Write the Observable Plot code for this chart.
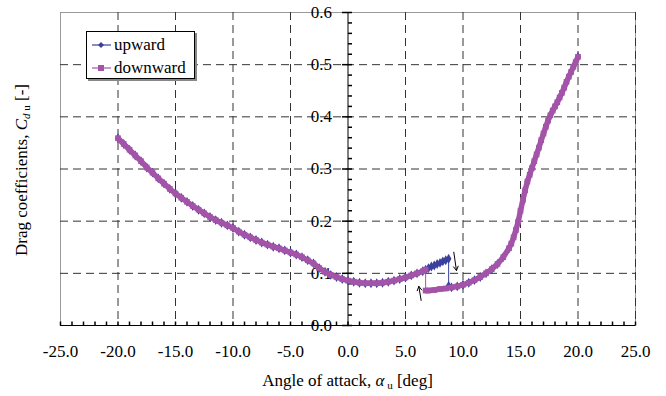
<!DOCTYPE html>
<html><head><meta charset="utf-8">
<script src="https://cdn.jsdelivr.net/npm/d3@7"></script>
<script src="https://cdn.jsdelivr.net/npm/@observablehq/plot@0.6"></script>
<style>
body{margin:0;background:#fff;}
#wrap{position:relative;width:666px;height:396px;font-family:"Liberation Serif",serif;}
#wrap svg, #wrap svg text{font-family:"Liberation Serif",serif !important;}
#legend{position:absolute;left:86px;top:31px;width:107px;height:46px;border:1px solid #000;background:#fff;box-shadow:2px 2px 0 #888;font-size:17px;line-height:1;}
#legend .row{position:absolute;left:5px;display:flex;align-items:center;}
#legend svg{margin-right:3px;}
</style></head><body><div id="wrap"></div>
<script>
// ---- data ----
const downAlpha = [-20,-19.5,-19,-18.5,-18,-17.5,-17,-16.5,-16,-15.5,-15,-14.5,-14,-13.5,-13,-12.5,-12,-11.5,-11,-10.5,-10,-9.5,-9,-8.5,-8,-7.5,-7,-6.5,-6,-5.5,-5,-4.5,-4,-3.5,-3,-2.5,-2,-1.5,-1,-0.5,0,0.5,1,1.5,2,2.5,3,3.5,4,4.5,5,5.5,6,6.5,6.75,6.75,7,7.5,8,8.5,9,9.5,10,10.5,11,11.5,12,12.5,13,13.5,14,14.2,14.4,14.6,14.8,15,15.2,15.4,15.6,15.8,16,16.2,16.4,16.6,16.8,17,17.2,17.4,17.6,17.8,18,18.2,18.4,18.6,18.8,19,19.2,19.4,19.6,19.8,20];
const downCd = [0.359,0.348,0.337,0.326,0.315,0.303,0.293,0.282,0.272,0.262,0.253,0.245,0.237,0.229,0.222,0.215,0.208,0.202,0.197,0.192,0.187,0.180,0.174,0.169,0.164,0.159,0.155,0.151,0.148,0.144,0.140,0.136,0.131,0.125,0.119,0.110,0.103,0.097,0.093,0.089,0.086,0.084,0.082,0.081,0.081,0.081,0.082,0.084,0.086,0.089,0.092,0.096,0.100,0.104,0.107,0.067,0.067,0.068,0.070,0.071,0.073,0.075,0.078,0.082,0.087,0.093,0.100,0.108,0.118,0.131,0.148,0.157,0.169,0.183,0.199,0.220,0.240,0.259,0.276,0.289,0.302,0.315,0.328,0.341,0.355,0.368,0.381,0.393,0.403,0.412,0.420,0.428,0.437,0.446,0.456,0.467,0.477,0.486,0.496,0.505,0.515];
const upAlpha = [-20,-19.5,-19,-18.5,-18,-17.5,-17,-16.5,-16,-15.5,-15,-14.5,-14,-13.5,-13,-12.5,-12,-11.5,-11,-10.5,-10,-9.5,-9,-8.5,-8,-7.5,-7,-6.5,-6,-5.5,-5,-4.5,-4,-3.5,-3,-2.5,-2,-1.5,-1,-0.5,0,0.5,1,1.5,2,2.5,3,3.5,4,4.5,5,5.5,6,6.5,6.75,7,7.25,7.5,7.75,8,8.25,8.5,8.75,8.75,9,9.5,10,10.5,11,11.5,12,12.5,13,13.5,14,14.2,14.4,14.6,14.8,15,15.2,15.4,15.6,15.8,16,16.2,16.4,16.6,16.8,17,17.2,17.4,17.6,17.8,18,18.2,18.4,18.6,18.8,19,19.2,19.4,19.6,19.8,20];
const upCd = [0.359,0.348,0.337,0.326,0.315,0.303,0.293,0.282,0.272,0.262,0.253,0.245,0.237,0.229,0.222,0.215,0.208,0.202,0.197,0.192,0.187,0.180,0.174,0.169,0.164,0.159,0.155,0.151,0.148,0.144,0.140,0.136,0.131,0.125,0.119,0.110,0.103,0.097,0.093,0.089,0.086,0.084,0.082,0.081,0.081,0.081,0.082,0.084,0.086,0.089,0.092,0.096,0.100,0.104,0.107,0.110,0.113,0.115,0.118,0.120,0.123,0.125,0.128,0.076,0.073,0.075,0.078,0.082,0.087,0.093,0.100,0.108,0.118,0.131,0.148,0.157,0.169,0.183,0.199,0.220,0.240,0.259,0.276,0.289,0.302,0.315,0.328,0.341,0.355,0.368,0.381,0.393,0.403,0.412,0.420,0.428,0.437,0.446,0.456,0.467,0.477,0.486,0.496,0.505,0.515];
const xTicks = [-25,-20,-15,-10,-5,0,5,10,15,20,25];
const yTicks = [0,0.1,0.2,0.3,0.4,0.5,0.6];
const xGrid = [-20,-15,-10,-5,5,10,15,20,25];
const yGrid = [0.1,0.2,0.3,0.4,0.5];
const arrowAlpha1 = [6.36, 9.2];
const arrowCd1 = [0.048, 0.1405];
const arrowAlpha2 = [6.16, 9.43];
const arrowCd2 = [0.075, 0.1054];
const seriesNames = ["upward", "downward"];
const seriesColors = ["#3b3f9e", "#a354a8"];

// ---- build ----
function toRows(alpha, cd) {
  let branch = 0;
  return alpha.map((a, i) => {
    if (i > 0 && a === alpha[i - 1]) branch++;   // a vertical jump starts a new branch
    return {a, cd: cd[i], branch};
  });
}
const down = toRows(downAlpha, downCd);
const up = toRows(upAlpha, upCd);
const arrows = arrowAlpha1.map((a, i) => ({x1: a, y1: arrowCd1[i], x2: arrowAlpha2[i], y2: arrowCd2[i]}));
const xMinor = d3.range(-25, 25.001, 1);
const yMinor = d3.range(0, 0.6001, 0.02);
const tickUp = {draw(c) { c.moveTo(0, 0); c.lineTo(0, -4); }};
const tickRight = {draw(c) { c.moveTo(0, 0); c.lineTo(4, 0); }};
const tickLeft = {draw(c) { c.moveTo(0, 0); c.lineTo(-6, 0); }};

const chart = Plot.plot({
  width: 666, height: 396,
  marginLeft: 60, marginRight: 31, marginTop: 12, marginBottom: 71,
  style: {fontSize: "17px", color: "#000", background: "#fff"},
  x: {domain: [-25, 25], ticks: xTicks, tickFormat: d => d.toFixed(1), tickSize: 0, tickPadding: 19, label: null},
  y: {domain: [0, 0.6], axis: null},
  marks: [
    Plot.frame({stroke: "#999"}),
    Plot.ruleX(xGrid, {stroke: "#333", strokeDasharray: "8,5"}),
    Plot.ruleY(yGrid, {stroke: "#333", strokeDasharray: "8,5"}),
    Plot.ruleX([0], {stroke: "#000"}),
    Plot.ruleY([0], {stroke: "#000"}),
    Plot.dot(xMinor, {x: d => d, y: d => 0, symbol: tickUp, stroke: "#000", fill: "none", r: 3}),
    Plot.dot(yMinor, {x: d => 0, y: d => d, symbol: tickRight, stroke: "#000", fill: "none", r: 3}),
    Plot.dot(yTicks, {x: d => 0, y: d => d, symbol: tickLeft, stroke: "#000", fill: "none", r: 3}),
    Plot.text(yTicks, {x: d => 0, y: d => d, text: d => d.toFixed(1), textAnchor: "end", dx: -16, fontSize: 17}),
    // upward
    Plot.line(up, {x: "a", y: "cd", z: "branch", stroke: seriesColors[0], strokeWidth: 4}),
    Plot.line(up, {x: "a", y: "cd", stroke: seriesColors[0], strokeWidth: 1}),
    Plot.dot(up, {x: "a", y: "cd", symbol: "diamond", r: 3, fill: seriesColors[0], stroke: "none"}),
    // downward
    Plot.line(down, {x: "a", y: "cd", z: "branch", stroke: seriesColors[1], strokeWidth: 5.5}),
    Plot.line(down, {x: "a", y: "cd", stroke: seriesColors[1], strokeWidth: 1}),
    Plot.dot(down, {x: "a", y: "cd", symbol: "square", r: 3.2, fill: seriesColors[1], stroke: "none"}),
    Plot.arrow(arrows, {x1: "x1", y1: "y1", x2: "x2", y2: "y2", stroke: "#000", strokeWidth: 1, headLength: 7})
  ]
});

const wrap = document.getElementById("wrap");
wrap.appendChild(chart);

const svg = d3.select(chart);
// x axis title
const xt = svg.append("text").attr("x", 347.5).attr("y", 386).attr("text-anchor", "middle")
  .attr("font-size", 17).attr("fill", "#000");
xt.append("tspan").text("Angle of attack, ");
xt.append("tspan").attr("font-style", "italic").text("α");
xt.append("tspan").attr("font-size", 11).attr("dy", 3).text(" u");
xt.append("tspan").attr("dy", -3).text(" [deg]");
// y axis title
const yt = svg.append("text").attr("transform", "translate(27,170) rotate(-90)").attr("text-anchor", "middle")
  .attr("font-size", 17).attr("fill", "#000");
yt.append("tspan").text("Drag coefficients, ");
yt.append("tspan").attr("font-style", "italic").text("C");
yt.append("tspan").attr("font-style", "italic").attr("font-size", 11).attr("dy", 3).text("d");
yt.append("tspan").attr("font-size", 11).text(" u");
yt.append("tspan").attr("dy", -3).text(" [-]");

// force serif everywhere, and the x tick labels to the larger size
svg.attr("font-family", '"Liberation Serif", serif');
svg.selectAll("g, text").attr("font-family", '"Liberation Serif", serif')
  .style("font-family", '"Liberation Serif", serif').attr("font-variant", null);
svg.selectAll("g[aria-label^='x-axis']").attr("font-size", 17).style("font-size", "17px");
svg.selectAll("g[aria-label^='x-axis'] text").attr("font-size", 17).style("font-size", "17px");

// legend overlay
const leg = document.createElement("div");
leg.id = "legend";
seriesNames.forEach((name, i) => {
  const row = document.createElement("div");
  row.className = "row";
  row.style.top = (i === 0 ? 4 : 27) + "px";
  const sym = i === 0
    ? `<path d="M9,-3L12,0L9,3L6,0Z" fill="${seriesColors[i]}"/>`
    : `<rect x="6" y="-3" width="6" height="6" fill="${seriesColors[i]}"/>`;
  row.innerHTML = `<svg width="19" height="10" viewBox="0 -5 19 10"><line x1="0" x2="19" y1="0" y2="0" stroke="${seriesColors[i]}" stroke-width="1.2"/>${sym}</svg><span>${name}</span>`;
  leg.appendChild(row);
});
wrap.appendChild(leg);
</script>
</body></html>
